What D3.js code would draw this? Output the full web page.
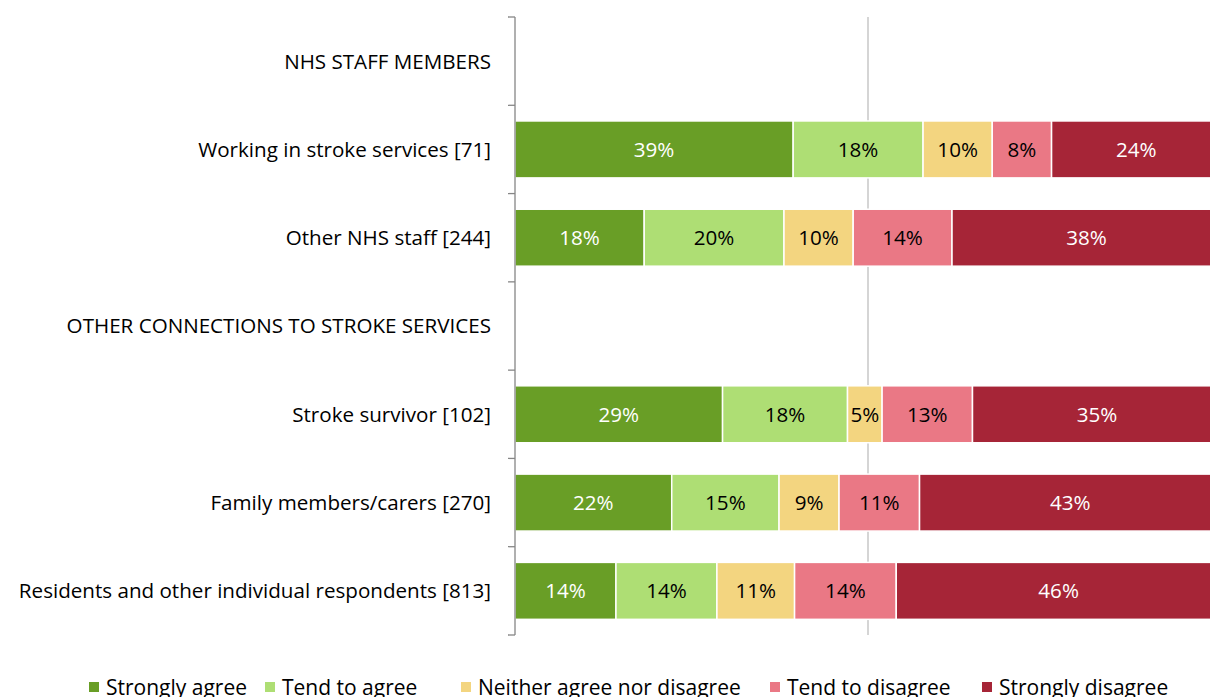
<!DOCTYPE html>
<html>
<head>
<meta charset="utf-8">
<script src="https://cdn.jsdelivr.net/npm/d3@7"></script>
<style>
  body { margin: 0; background: #fff; }
  svg { display: block; font-family: "Open Sans", Lato, sans-serif; }
</style>
</head>
<body>
<svg id="chart" width="1210" height="697"></svg>
<script>
const categories = [
  "NHS STAFF MEMBERS",
  "Working in stroke services [71]",
  "Other NHS staff [244]",
  "OTHER CONNECTIONS TO STROKE SERVICES",
  "Stroke survivor [102]",
  "Family members/carers [270]",
  "Residents and other individual respondents [813]"
];
const seriesNames = ["Strongly agree", "Tend to agree", "Neither agree nor disagree", "Tend to disagree", "Strongly disagree"];
// values per category (null = heading row without a bar)
const stronglyAgree    = [null, 39.4, 18.3, null, 29.4, 22.2, 14.3];
const tendToAgree      = [null, 18.4, 19.8, null, 17.7, 15.2, 14.3];
const neither          = [null,  9.8,  9.8, null,  4.9,  8.5, 11.0];
const tendToDisagree   = [null,  8.4, 14.0, null, 12.8, 11.4, 14.4];
const stronglyDisagree = [null, 24.0, 38.1, null, 35.3, 42.7, 46.0];
const colors = ["#699E26", "#AEDE74", "#F3D580", "#EA7885", "#A62537"];
const labelColors = ["#fff", "#000", "#000", "#000", "#fff"];

const svg = d3.select("#chart");
const fontSize = 20.6;

const x = d3.scaleLinear().domain([0, 100]).range([515, 1221]);
const y = d3.scaleBand().domain(categories).range([17, 635])
  .paddingInner(0.355).paddingOuter(0.355 / 2);

const table = categories.map((c, i) => ({
  cat: c,
  has: stronglyAgree[i] !== null,
  [seriesNames[0]]: stronglyAgree[i] || 0,
  [seriesNames[1]]: tendToAgree[i] || 0,
  [seriesNames[2]]: neither[i] || 0,
  [seriesNames[3]]: tendToDisagree[i] || 0,
  [seriesNames[4]]: stronglyDisagree[i] || 0
}));
const stacked = d3.stack().keys(seriesNames)(table);

// 50% gridline
svg.append("line")
  .attr("x1", x(50)).attr("x2", x(50))
  .attr("y1", y.range()[0]).attr("y2", y.range()[1])
  .attr("stroke", "#BFBFBF").attr("stroke-width", 1.3);

// bars
stacked.forEach((s, si) => {
  const g = svg.append("g");
  const segs = s.filter(d => d.data.has);
  g.selectAll("rect").data(segs).join("rect")
    .attr("x", d => x(d[0]))
    .attr("y", d => y(d.data.cat))
    .attr("width", d => x(d[1]) - x(d[0]))
    .attr("height", y.bandwidth())
    .attr("fill", colors[si])
    .attr("stroke", "#fff").attr("stroke-width", 1.5);
  g.selectAll("text").data(segs).join("text")
    .attr("x", d => (x(d[0]) + x(d[1])) / 2)
    .attr("y", d => y(d.data.cat) + y.bandwidth() / 2)
    .attr("dy", "0.36em")
    .attr("text-anchor", "middle")
    .attr("font-size", fontSize)
    .attr("fill", labelColors[si])
    .text(d => Math.round(d[1] - d[0]) + "%");
});

// category axis
const axis = svg.append("g");
axis.append("line")
  .attr("x1", x(0)).attr("x2", x(0))
  .attr("y1", y.range()[0]).attr("y2", y.range()[1])
  .attr("stroke", "#868686").attr("stroke-width", 1.3);
const bounds = d3.range(categories.length + 1).map(i => y.range()[0] + i * y.step());
axis.selectAll(".tick").data(bounds).join("line")
  .attr("class", "tick")
  .attr("x1", x(0) - 7).attr("x2", x(0))
  .attr("y1", d => d).attr("y2", d => d)
  .attr("stroke", "#868686").attr("stroke-width", 1.3);
axis.selectAll("text").data(categories).join("text")
  .attr("x", 491)
  .attr("y", d => y(d) + y.bandwidth() / 2)
  .attr("dy", "0.36em")
  .attr("text-anchor", "end")
  .attr("font-size", fontSize)
  .attr("fill", "#000")
  .text(d => d);

// legend
const legendX = [89, 265, 461, 770, 982];
const legend = svg.append("g");
seriesNames.forEach((n, i) => {
  legend.append("rect")
    .attr("x", legendX[i]).attr("y", 682)
    .attr("width", 10).attr("height", 10)
    .attr("fill", colors[i]);
  legend.append("text")
    .attr("x", legendX[i] + 17).attr("y", 695)
    .attr("font-size", fontSize + 0.4)
    .attr("fill", "#000")
    .text(n);
});
</script>
</body>
</html>
